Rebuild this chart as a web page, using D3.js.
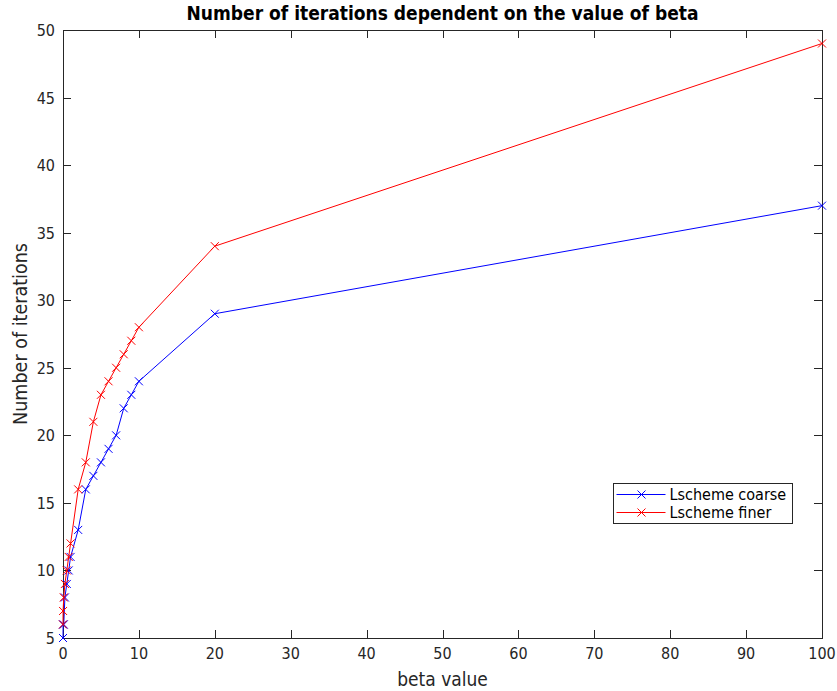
<!DOCTYPE html>
<html>
<head>
<meta charset="utf-8">
<script src="https://cdn.jsdelivr.net/npm/d3@7"></script>
<style>
  body { margin: 0; background: #fff; }
  text { font-family: "DejaVu Sans Condensed", "DejaVu Sans", sans-serif; font-stretch: condensed; fill: #262626; }
</style>
</head>
<body>
<script>
// beta values used for both runs
var beta = [0.001, 0.01, 0.1, 0.25, 0.5, 0.75, 1, 2, 3, 4, 5, 6, 7, 8, 9, 10, 20, 100];
var coarse = [5, 6, 6, 8, 9, 10, 11, 13, 16, 17, 18, 19, 20, 22, 23, 24, 29, 37];
var finer = [6, 7, 8, 9, 10, 11, 12, 16, 18, 21, 23, 24, 25, 26, 27, 28, 34, 49];
var seriesNames = ["Lscheme coarse", "Lscheme finer"];
var seriesColors = ["#0000ff", "#ff0000"];
var xTicks = [0, 10, 20, 30, 40, 50, 60, 70, 80, 90, 100];
var yTicks = [5, 10, 15, 20, 25, 30, 35, 40, 45, 50];

var width = 837, height = 691;
var margin = {top: 30, right: 15, bottom: 53, left: 63};

var svg = d3.select("body").append("svg")
  .attr("width", width)
  .attr("height", height);

var x = d3.scaleLinear().domain([0, 100]).range([margin.left, width - margin.right]);
var y = d3.scaleLinear().domain([5, 50]).range([height - margin.bottom, margin.top]);

var axisColor = "#262626";
var tickLen = 8;

var g = svg.append("g");

// inner ticks, MATLAB style, on all four sides
var ticks = g.append("g").attr("stroke", axisColor).attr("stroke-width", 1);
xTicks.forEach(function(t) {
  var px = Math.round(x(t)) + 0.5;
  ticks.append("line").attr("x1", px).attr("x2", px)
    .attr("y1", y(5)).attr("y2", y(5) - tickLen);
  ticks.append("line").attr("x1", px).attr("x2", px)
    .attr("y1", y(50)).attr("y2", y(50) + tickLen);
});
yTicks.forEach(function(t) {
  var py = Math.round(y(t)) + 0.5;
  ticks.append("line").attr("y1", py).attr("y2", py)
    .attr("x1", x(0)).attr("x2", x(0) + tickLen);
  ticks.append("line").attr("y1", py).attr("y2", py)
    .attr("x1", x(100)).attr("x2", x(100) - tickLen);
});

g.append("rect")
  .attr("x", Math.round(x(0)) + 0.5)
  .attr("y", Math.round(y(50)) + 0.5)
  .attr("width", Math.round(x(100) - x(0)))
  .attr("height", Math.round(y(5) - y(50)))
  .attr("fill", "none")
  .attr("stroke", axisColor);

// tick labels
g.selectAll(".xl").data(xTicks).enter().append("text")
  .attr("x", function(d) { return x(d); })
  .attr("y", y(5) + 21)
  .attr("text-anchor", "middle")
  .attr("font-size", 16)
  .text(function(d) { return d; });

g.selectAll(".yl").data(yTicks).enter().append("text")
  .attr("x", x(0) - 8)
  .attr("y", function(d) { return y(d) + 6; })
  .attr("text-anchor", "end")
  .attr("font-size", 16)
  .text(function(d) { return d; });

// titles
svg.append("text")
  .attr("x", (x(0) + x(100)) / 2)
  .attr("y", 20)
  .attr("text-anchor", "middle")
  .attr("font-size", 19)
  .attr("font-weight", "bold")
  .style("fill", "#000")
  .text("Number of iterations dependent on the value of beta");

svg.append("text")
  .attr("x", (x(0) + x(100)) / 2)
  .attr("y", 686)
  .attr("text-anchor", "middle")
  .attr("font-size", 19)
  .text("beta value");

svg.append("text")
  .attr("transform", "translate(27," + (y(5) + y(50)) / 2 + ") rotate(-90)")
  .attr("text-anchor", "middle")
  .attr("font-size", 19.5)
  .text("Number of iterations");

// series
var data = [coarse, finer].map(function(vals, i) {
  return {name: seriesNames[i], color: seriesColors[i],
    pts: beta.map(function(b, j) { return [b, vals[j]]; })};
});

var line = d3.line().x(function(d) { return x(d[0]); }).y(function(d) { return y(d[1]); });

function cross(sel, cx, cy, color) {
  var s = 4;
  sel.append("path")
    .attr("d", "M" + (cx - s) + "," + (cy - s) + "L" + (cx + s) + "," + (cy + s) +
               "M" + (cx - s) + "," + (cy + s) + "L" + (cx + s) + "," + (cy - s))
    .attr("stroke", color)
    .attr("stroke-width", 1)
    .attr("fill", "none");
}

data.forEach(function(s) {
  var sg = svg.append("g");
  sg.append("path")
    .attr("d", line(s.pts))
    .attr("fill", "none")
    .attr("stroke", s.color)
    .attr("stroke-width", 1);
  s.pts.forEach(function(p) { cross(sg, x(p[0]), y(p[1]), s.color); });
});

// legend
var lg = svg.append("g").attr("transform", "translate(613.5,483.5)");
lg.append("rect").attr("width", 179).attr("height", 40)
  .attr("fill", "#fff").attr("stroke", axisColor);
data.forEach(function(s, i) {
  var ly = 11 + i * 18;
  lg.append("line").attr("x1", 3).attr("x2", 52).attr("y1", ly).attr("y2", ly)
    .attr("stroke", s.color);
  cross(lg, 28, ly, s.color);
  lg.append("text").attr("x", 56).attr("y", ly + 5.5)
    .attr("font-size", 16)
    .style("fill", "#000")
    .text(s.name);
});
</script>
</body>
</html>
